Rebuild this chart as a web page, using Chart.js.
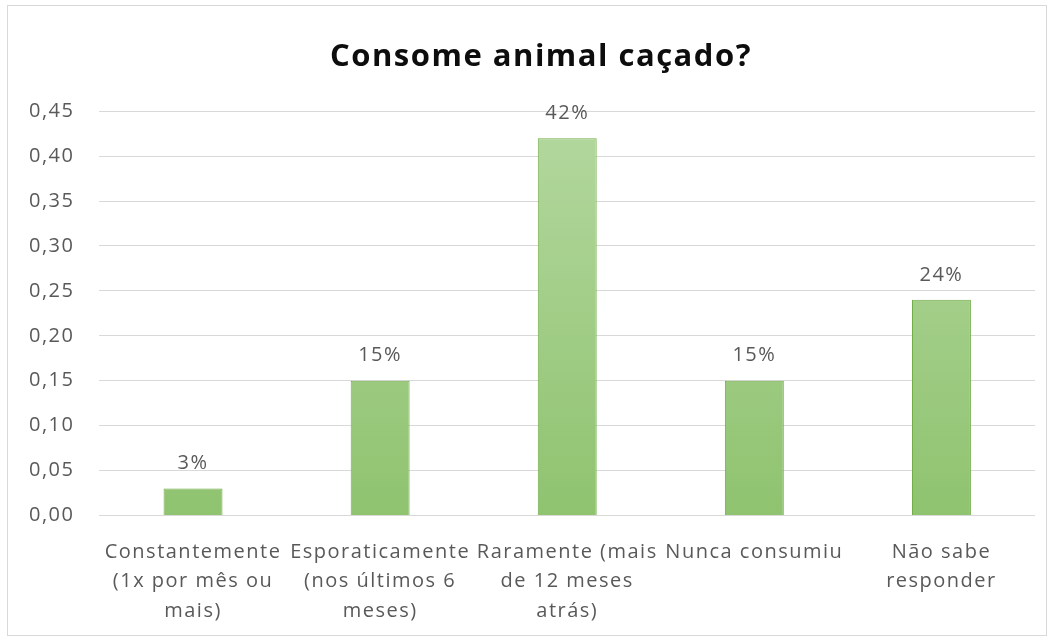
<!DOCTYPE html>
<html>
<head>
<meta charset="utf-8">
<script src="https://cdn.jsdelivr.net/npm/chart.js@4"></script>
<style>
  html, body { margin: 0; padding: 0; background: #fff; }
  #wrap { position: relative; width: 1056px; height: 641px; }
  #frame { position: absolute; left: 7px; top: 5px; width: 1040px; height: 631px; border: 1px solid #d9d9d9; box-sizing: border-box; }
  canvas { position: absolute; left: 0; top: 0; }
</style>
</head>
<body>
<div id="wrap">
  <div id="frame"></div>
  <canvas id="huntChart" width="1056" height="641"></canvas>
</div>
<script>
const categories = [
  ["Constantemente", "(1x por mês ou", "mais)"],
  ["Esporaticamente", "(nos últimos 6", "meses)"],
  ["Raramente (mais", "de 12 meses", "atrás)"],
  ["Nunca consumiu"],
  ["Não sabe", "responder"],
];
const shares = [0.03, 0.15, 0.42, 0.15, 0.24];
const yTicks = [0, 0.05, 0.10, 0.15, 0.20, 0.25, 0.30, 0.35, 0.40, 0.45];

const textGray = "#595959";
const baseFont = "'Open Sans', 'DejaVu Sans', sans-serif";

// slightly spaced lettering for every text drawn on the canvas
const spacing = {
  id: "spacing",
  beforeInit(chart) { chart.ctx.letterSpacing = "1.5px"; },
  beforeLayout(chart) { chart.ctx.letterSpacing = "1.5px"; },
  beforeDraw(chart) { chart.ctx.letterSpacing = "1.5px"; },
  afterLayout(chart) {
    // title sits a little right of the canvas centre
    if (chart.titleBlock) chart.titleBlock.left += 43;
  },
};

// percentage label above each bar
const barLabels = {
  id: "barLabels",
  afterDatasetsDraw(chart) {
    const ctx = chart.ctx;
    const meta = chart.getDatasetMeta(0);
    ctx.save();
    ctx.font = "20px " + baseFont;
    ctx.fillStyle = textGray;
    ctx.textAlign = "center";
    ctx.textBaseline = "middle";
    meta.data.forEach((bar, i) => {
      ctx.fillText(Math.round(shares[i] * 100) + "%", bar.x, bar.y - 25);
    });
    ctx.restore();
  },
};

function barFill(context) {
  const area = context.chart.chartArea;
  if (!area) return "#a9d18e";
  const g = context.chart.ctx.createLinearGradient(0, area.top, 0, area.bottom);
  g.addColorStop(0, "#b4d8a0");
  g.addColorStop(1, "#8fc36f");
  return g;
}

new Chart(document.getElementById("huntChart"), {
  type: "bar",
  data: {
    labels: categories,
    datasets: [{
      data: shares,
      backgroundColor: barFill,
      borderColor: "#70ad47",
      borderWidth: 1,
      barPercentage: 0.315,
      categoryPercentage: 1,
    }],
  },
  options: {
    responsive: false,
    animation: false,
    layout: { padding: { left: 4, right: 21, top: 12, bottom: 1 } },
    plugins: {
      legend: { display: false },
      tooltip: { enabled: false },
      title: {
        display: true,
        text: "Consome animal caçado?",
        color: "#0d0d0d",
        font: { family: baseFont, size: 31, weight: "bold" },
        padding: { top: 27, bottom: 35 },
      },
    },
    scales: {
      x: {
        grid: { display: false },
        border: { display: false },
        ticks: {
          color: textGray,
          font: { family: baseFont, size: 20, lineHeight: 1.475 },
          maxRotation: 0,
          autoSkip: false,
          padding: 14,
        },
      },
      y: {
        min: 0,
        max: 0.45,
        afterBuildTicks(axis) {
          axis.ticks = yTicks.map((v) => ({ value: v }));
        },
        grid: { color: "#d9d9d9", drawTicks: false },
        border: { display: false },
        ticks: {
          color: textGray,
          font: { family: baseFont, size: 20 },
          padding: 25,
          callback: (v) => v.toFixed(2).replace(".", ","),
        },
      },
    },
  },
  plugins: [spacing, barLabels],
});
</script>
</body>
</html>
